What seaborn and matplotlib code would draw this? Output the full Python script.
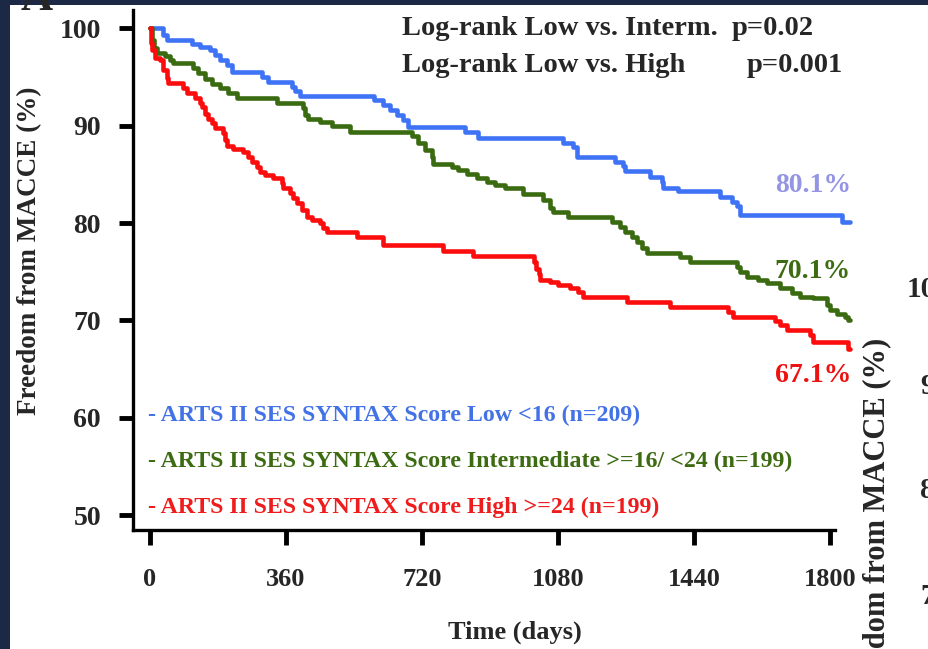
"""Kaplan-Meier curves of freedom from MACCE by SYNTAX score tercile (ARTS II)."""
import matplotlib

matplotlib.use("Agg")
import matplotlib.pyplot as plt
from matplotlib.patches import Rectangle
import pandas as pd
import seaborn as sns

# step curves: day of event -> % free from MACCE after it
low_days = [0, 34, 45, 111, 132, 159, 172, 185, 204, 217, 296, 312, 376, 384, 397,
            592, 617, 635, 654, 670, 683, 834, 868, 1093, 1120, 1130, 1231, 1252,
            1257, 1324, 1355, 1358, 1398, 1509, 1541, 1554, 1562, 1832, 1853]
low_surv = [100, 99.3, 98.8, 98.4, 98.1, 97.7, 97.2, 96.7, 96.2, 95.5, 95.0, 94.5,
            94.0, 93.5, 93.0, 92.6, 92.1, 91.6, 91.1, 90.6, 89.8, 89.3, 88.7, 88.2,
            87.8, 86.8, 86.3, 85.8, 85.3, 84.7, 84.2, 83.6, 83.3, 82.7, 82.2, 81.7,
            80.8, 80.1, 80.1]

mid_days = [0, 4, 10, 19, 40, 53, 61, 114, 127, 146, 164, 185, 206, 230, 336, 405,
            410, 418, 450, 482, 529, 694, 709, 728, 746, 749, 799, 815, 839, 866,
            892, 913, 940, 987, 1040, 1059, 1067, 1106, 1223, 1244, 1257, 1276, 1289,
            1302, 1316, 1403, 1429, 1554, 1562, 1580, 1609, 1633, 1668, 1699, 1721,
            1755, 1792, 1800, 1818, 1840, 1848, 1853]
mid_surv = [100, 98.8, 98.0, 97.4, 97.1, 96.7, 96.4, 95.9, 95.4, 94.8, 94.3, 93.8,
            93.3, 92.8, 92.3, 91.8, 91.1, 90.7, 90.4, 89.9, 89.3, 88.9, 88.2, 87.5,
            86.8, 86.1, 85.7, 85.4, 85.0, 84.6, 84.2, 83.9, 83.6, 83.0, 82.4, 81.5,
            81.1, 80.6, 80.1, 79.6, 79.1, 78.6, 78.1, 77.4, 76.9, 76.5, 76.0, 75.5,
            75.0, 74.5, 74.2, 73.8, 73.3, 72.8, 72.4, 72.3, 71.6, 71.1, 70.7, 70.4,
            70.1, 70.1]

high_days = [0, 3, 5, 13, 26, 34, 45, 48, 87, 98, 119, 132, 138, 146, 154, 164, 172,
             193, 199, 204, 220, 246, 260, 270, 283, 291, 305, 326, 350, 352, 371,
             379, 389, 402, 415, 429, 450, 458, 469, 548, 617, 775, 855, 1016, 1021,
             1029, 1032, 1059, 1080, 1112, 1133, 1146, 1262, 1376, 1530, 1543, 1654,
             1668, 1686, 1747, 1755, 1848, 1853]
high_surv = [100, 98.5, 97.7, 96.9, 96.7, 95.7, 94.9, 94.4, 93.8, 93.3, 92.8, 92.3,
             91.9, 91.2, 90.7, 90.3, 89.7, 89.2, 88.5, 87.9, 87.6, 87.3, 86.8, 86.3,
             85.7, 85.2, 84.9, 84.6, 84.1, 83.6, 83.1, 82.6, 82.1, 81.3, 80.6, 80.3,
             80.0, 79.5, 79.1, 78.6, 77.7, 77.1, 76.6, 76.0, 75.3, 74.8, 74.2, 74.0,
             73.6, 73.3, 72.9, 72.4, 71.9, 71.4, 70.9, 70.4, 69.9, 69.5, 69.0, 68.5,
             67.8, 67.1, 67.1]

groups = ["low", "mid", "high"]
group_labels = [
    "- ARTS II SES SYNTAX Score Low <16 (n=209)",
    "- ARTS II SES SYNTAX Score Intermediate >=16/ <24 (n=199)",
    "- ARTS II SES SYNTAX Score High >=24 (n=199)",
]
end_labels = ["80.1%", "70.1%", "67.1%"]
logrank_names = ["Log-rank Low vs. Interm.", "Log-rank Low vs. High"]
logrank_p = ["p=0.02", "p=0.001"]
x_ticks = [0, 360, 720, 1080, 1440, 1800]
y_ticks = [50, 60, 70, 80, 90, 100]
neighbour_ticks = ["100", "90", "80", "70"]

line_colors = {"low": "#3f73f5", "mid": "#3a6b10", "high": "#fb0d0d"}
text_colors = ["#4372e6", "#3d6b12", "#ee1c1c"]
end_colors = ["#9394e3", "#3d6b12", "#ee1111"]
NAVY = "#1b2947"

W, H = 929, 649
AX_L, AX_R, AX_T, AX_B = 133, 855, 10, 530


def ax_xy(px, py):
    """Pixel position in the picture -> axes fraction."""
    return (px - AX_L) / (AX_R - AX_L), (AX_B - py) / (AX_B - AX_T)


def main() -> None:
    sns.set_style("ticks")
    plt.rcParams["font.family"] = ["Liberation Serif", "DejaVu Serif"]
    plt.rcParams["font.weight"] = "bold"
    plt.rcParams["axes.labelweight"] = "bold"

    df = pd.concat([
        pd.DataFrame({"day": low_days, "surv": low_surv, "group": "low"}),
        pd.DataFrame({"day": mid_days, "surv": mid_surv, "group": "mid"}),
        pd.DataFrame({"day": high_days, "surv": high_surv, "group": "high"}),
    ])

    fig = plt.figure(figsize=(W / 100, H / 100), dpi=100)
    fig.patch.set_facecolor(NAVY)
    fig.add_artist(Rectangle((10 / W, 0), 1, (H - 5) / H, transform=fig.transFigure,
                             facecolor="white", edgecolor="none", zorder=-10))
    ax = fig.add_axes([AX_L / W, (H - AX_B) / H, (AX_R - AX_L) / W, (AX_B - AX_T) / H])
    ax.set_facecolor("none")

    sns.lineplot(data=df, x="day", y="surv", hue="group", hue_order=groups,
                 palette=line_colors, drawstyle="steps-post", linewidth=3.3,
                 errorbar=None, legend=False, ax=ax)

    ax.set_xlim(-45, 1866)
    ax.set_ylim(48.51, 101.85)
    ax.set_xticks(x_ticks)
    ax.set_yticks(y_ticks)
    for side in ["top", "right"]:
        ax.spines[side].set_visible(False)
    for side in ["left", "bottom"]:
        ax.spines[side].set_linewidth(2.4)
        ax.spines[side].set_color("black")
    ax.spines["bottom"].set_bounds(-45, 1813)
    ax.tick_params(axis="x", direction="out", length=11, width=3.5, pad=16,
                   labelsize=19, color="black")
    ax.tick_params(axis="y", direction="out", length=10, width=3.5, pad=13,
                   labelsize=20, color="black")

    ax.set_xlabel("Time (days)", fontsize=19)
    ax.xaxis.set_label_coords(*ax_xy(515, 621))
    ax.set_ylabel("Freedom from MACCE (%)", fontsize=19.5)
    ax.yaxis.set_label_coords(*ax_xy(42, 251))

    # log-rank block, p-values centred where the reference has them
    for name, p, py, pc in zip(logrank_names, logrank_p, [35, 72], [773, 795]):
        ax.text(*ax_xy(402, py), name, transform=ax.transAxes, fontsize=20.5,
                ha="left", va="baseline")
        ax.text(*ax_xy(pc, py), p, transform=ax.transAxes, fontsize=20.5,
                ha="center", va="baseline")

    for label, color, py in zip(group_labels, text_colors, [415, 461, 507]):
        ax.text(*ax_xy(148, py), label, transform=ax.transAxes, fontsize=17.2,
                color=color, ha="left", va="center")

    for label, color, py in zip(end_labels, end_colors, [185, 271, 375]):
        ax.text(*ax_xy(851, py), label, transform=ax.transAxes, fontsize=20,
                color=color, ha="right", va="center")

    # fragments of the neighbouring panels, cut by the picture edges
    fig.text(37 / W, 1 - 10 / H, "A", fontsize=32, ha="center", va="baseline")
    fig.text(877 / W, 1 - 338 / H, "Freedom from MACCE (%)", fontsize=22,
             rotation=90, ha="center", va="top")
    for label, px, py in zip(neighbour_ticks, [907, 920, 920, 920], [289, 386, 491, 597]):
        fig.text(px / W, 1 - py / H, label, fontsize=21, ha="left", va="center")

    fig.savefig("out.png", dpi=100, facecolor=fig.get_facecolor())
    plt.close(fig)


if __name__ == "__main__":
    main()
